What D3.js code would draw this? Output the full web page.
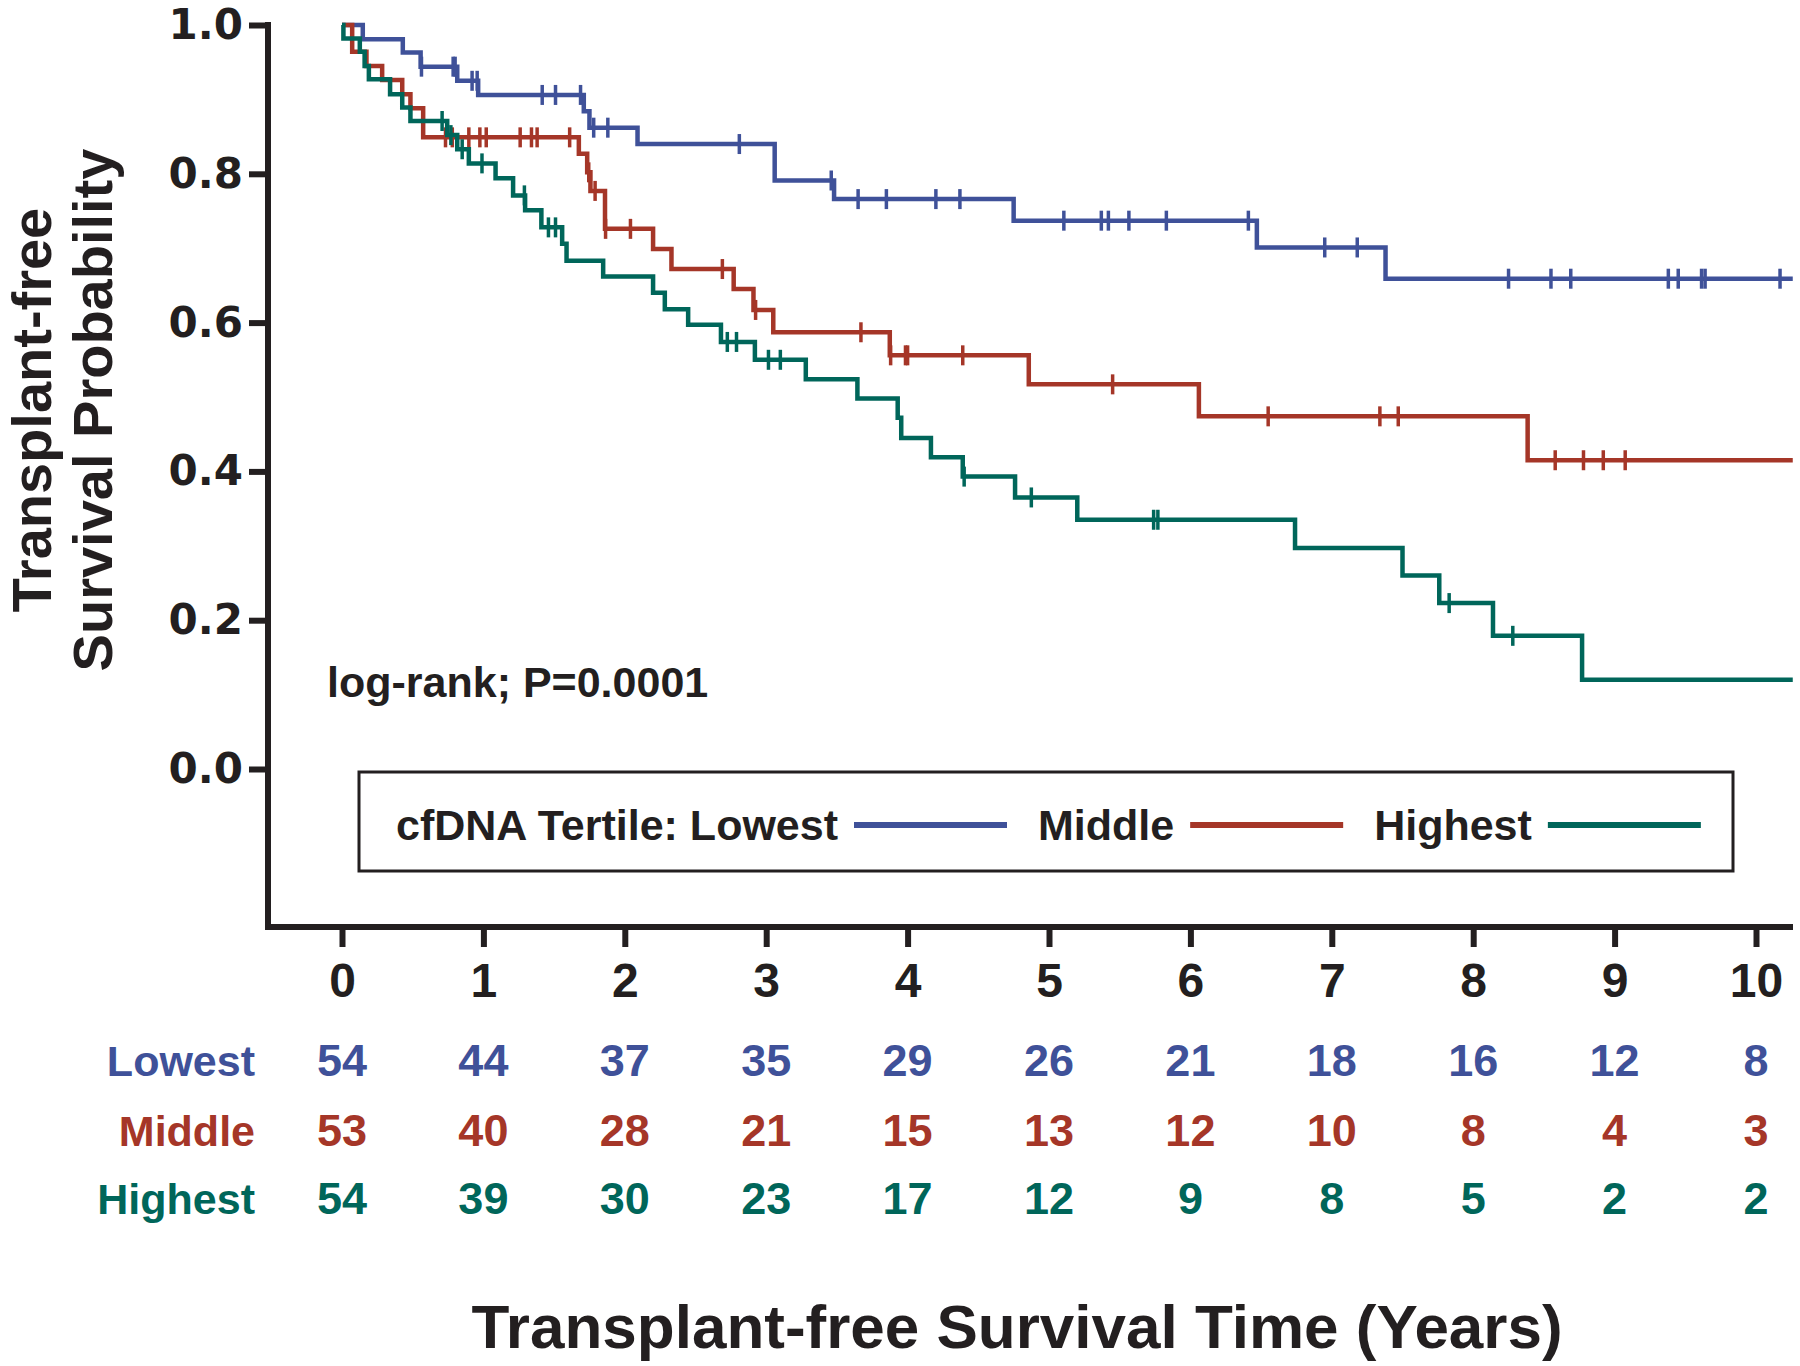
<!DOCTYPE html>
<html>
<head>
<meta charset="utf-8">
<script src="https://cdn.jsdelivr.net/npm/d3@7"></script>
<style>
	body { margin: 0; background: #ffffff; }
	text { font-family: "Liberation Sans", Arial, sans-serif; font-weight: bold; fill: #231f20; }
</style>
</head>
<body>
<svg id="chart" width="1800" height="1366"></svg>
<script>
// tick labels
var years = [0, 1, 2, 3, 4, 5, 6, 7, 8, 9, 10];
var probTicks = [0, 0.2, 0.4, 0.6, 0.8, 1.0];
var groups = ["Lowest", "Middle", "Highest"];
var colors = ["#3f5199", "#a53628", "#00665a"];
var tEnd = 10.26;

// Kaplan-Meier steps: drop time -> survival after the drop
var lowestTimes = [0.147, 0.43, 0.556, 0.815, 0.963, 1.71, 1.75, 2.09, 3.06, 3.48, 4.75, 6.47, 7.38];
var lowestSurv = [0.981, 0.963, 0.944, 0.925, 0.906, 0.884, 0.862, 0.840, 0.791, 0.766, 0.737, 0.701, 0.659];
var lowestCensor = [0.562, 0.786, 0.80, 0.92, 0.956, 1.416, 1.51, 1.687, 1.78, 1.88, 2.81, 3.46, 3.65, 3.85,
	4.20, 4.37, 5.105, 5.37, 5.42, 5.565, 5.83, 6.41, 6.95, 7.18, 8.25, 8.55, 8.69, 9.38, 9.45, 9.615, 9.64, 10.17];

var middleTimes = [0.072, 0.173, 0.284, 0.426, 0.484, 0.574, 1.675, 1.734, 1.757, 1.86, 2.20, 2.33, 2.77, 2.91,
	3.05, 3.874, 4.857, 6.06, 8.385];
var middleSurv = [0.964, 0.945, 0.926, 0.907, 0.888, 0.849, 0.827, 0.802, 0.777, 0.726, 0.699, 0.672, 0.645, 0.617,
	0.587, 0.556, 0.517, 0.474, 0.415];
var middleCensor = [0.732, 0.78, 0.897, 0.975, 1.02, 1.26, 1.34, 1.38, 1.61, 1.745, 1.79, 1.864, 2.04, 2.69, 2.925,
	3.67, 3.88, 3.985, 4.0, 4.39, 5.45, 6.55, 7.34, 7.47, 8.58, 8.78, 8.92, 9.075];

var highestTimes = [0.01, 0.126, 0.16, 0.19, 0.34, 0.426, 0.484, 0.744, 0.815, 0.897, 1.086, 1.21, 1.295, 1.41,
	1.557, 1.588, 1.847, 2.20, 2.283, 2.448, 2.68, 2.92, 3.28, 3.645, 3.93, 3.955, 4.165, 4.39, 4.76, 5.2, 6.74,
	7.50, 7.76, 8.14, 8.77];
var highestSurv = [0.982, 0.964, 0.945, 0.927, 0.907, 0.889, 0.871, 0.852, 0.833, 0.814, 0.794, 0.771, 0.751, 0.728,
	0.706, 0.683, 0.662, 0.640, 0.618, 0.597, 0.574, 0.550, 0.524, 0.498, 0.472, 0.445, 0.419, 0.393, 0.365, 0.335,
	0.297, 0.260, 0.223, 0.179, 0.120];
var highestCensor = [0.708, 0.77, 0.85, 0.99, 1.29, 1.46, 1.51, 2.725, 2.79, 3.016, 3.10, 4.40, 4.875, 5.74, 5.77,
	7.83, 8.28];

// numbers at risk
var lowestAtRisk = [54, 44, 37, 35, 29, 26, 21, 18, 16, 12, 8];
var middleAtRisk = [53, 40, 28, 21, 15, 13, 12, 10, 8, 4, 3];
var highestAtRisk = [54, 39, 30, 23, 17, 12, 9, 8, 5, 2, 2];

var series = [
	{ name: "Lowest", times: lowestTimes, surv: lowestSurv, censor: lowestCensor, risk: lowestAtRisk },
	{ name: "Middle", times: middleTimes, surv: middleSurv, censor: middleCensor, risk: middleAtRisk },
	{ name: "Highest", times: highestTimes, surv: highestSurv, censor: highestCensor, risk: highestAtRisk }
];

var x = d3.scaleLinear().domain([0, 10]).range([342, 1756]);
var y = d3.scaleLinear().domain([0, 1]).range([769, 25]);
var axisX = 268, axisY = 927;

function survAt(s, t) {
	var v = 1;
	for (var i = 0; i < s.times.length; ++i) {
		if (s.times[i] <= t) v = s.surv[i];
	}
	return v;
}

function stepPoints(s) {
	var pts = [[0, 1]];
	s.times.forEach(function(t, i) { pts.push([t, s.surv[i]]); });
	pts.push([tEnd, s.surv[s.surv.length - 1]]);
	return pts;
}

function drawAxes(svg) {
	var gy = svg.append("g")
		.attr("transform", "translate(" + axisX + ",0)")
		.call(d3.axisLeft(y).tickValues(probTicks).tickFormat(d3.format(".1f")).tickSize(19).tickPadding(6));
	gy.select(".domain").remove();
	gy.selectAll(".tick line").attr("stroke", "#231f20").attr("stroke-width", 6);
	gy.selectAll(".tick text")
		.style("font-family", "'DejaVu Sans', sans-serif")
		.style("font-size", "42px")
		.style("font-weight", "bold");

	var gx = svg.append("g")
		.attr("transform", "translate(0," + axisY + ")")
		.call(d3.axisBottom(x).tickValues(years).tickFormat(d3.format("d")).tickSize(20).tickPadding(16));
	gx.select(".domain").remove();
	gx.selectAll(".tick line").attr("stroke", "#231f20").attr("stroke-width", 6);
	gx.selectAll(".tick text").style("font-size", "48px");

	// axis lines meet in the corner, x line runs past 10
	svg.append("path")
		.attr("d", "M" + axisX + ",22V" + axisY + "H1793")
		.attr("fill", "none")
		.attr("stroke", "#231f20")
		.attr("stroke-width", 6)
		.attr("stroke-linejoin", "miter");
}

function drawCurves(svg) {
	var line = d3.line()
		.x(function(d) { return x(d[0]); })
		.y(function(d) { return y(d[1]); })
		.curve(d3.curveStepAfter);

	series.forEach(function(s, i) {
		var g = svg.append("g");
		g.append("path")
			.attr("d", line(stepPoints(s)))
			.attr("fill", "none")
			.attr("stroke", colors[i])
			.attr("stroke-width", 4.5);
		g.selectAll("line")
			.data(s.censor)
			.enter()
			.append("line")
			.attr("x1", function(d) { return x(d); })
			.attr("x2", function(d) { return x(d); })
			.attr("y1", function(d) { return y(survAt(s, d)) - 10; })
			.attr("y2", function(d) { return y(survAt(s, d)) + 10; })
			.attr("stroke", colors[i])
			.attr("stroke-width", 3.5);
	});
}

function drawLegend(svg) {
	svg.append("rect")
		.attr("x", 359).attr("y", 772)
		.attr("width", 1374).attr("height", 99)
		.attr("fill", "none")
		.attr("stroke", "#231f20")
		.attr("stroke-width", 3);

	var labels = ["cfDNA Tertile: Lowest", "Middle", "Highest"];
	var cx = 396;
	labels.forEach(function(lab, i) {
		var t = svg.append("text")
			.attr("x", cx).attr("y", 840)
			.style("font-size", "43px")
			.text(lab);
		cx += t.node().getComputedTextLength() + 16;
		svg.append("line")
			.attr("x1", cx).attr("x2", cx + 153)
			.attr("y1", 825).attr("y2", 825)
			.attr("stroke", colors[i])
			.attr("stroke-width", 6);
		cx += 153 + 31;
	});
}

function drawRiskTable(svg) {
	var rowY = [1076, 1146, 1214];
	series.forEach(function(s, i) {
		svg.append("text")
			.attr("x", 255).attr("y", rowY[i])
			.attr("text-anchor", "end")
			.style("font-size", "43px")
			.style("fill", colors[i])
			.text(s.name);
		svg.append("g").selectAll("text")
			.data(s.risk)
			.enter()
			.append("text")
			.attr("x", function(d, j) { return x(years[j]); })
			.attr("y", rowY[i])
			.attr("text-anchor", "middle")
			.style("font-size", "45px")
			.style("fill", colors[i])
			.text(function(d) { return d; });
	});
}

function drawTitles(svg) {
	svg.append("text")
		.attr("x", 1017).attr("y", 1348)
		.attr("text-anchor", "middle")
		.style("font-size", "62px")
		.text("Transplant-free Survival Time (Years)");

	svg.append("text")
		.attr("transform", "translate(51,410) rotate(-90)")
		.attr("text-anchor", "middle")
		.style("font-size", "56px")
		.text("Transplant-free");
	svg.append("text")
		.attr("transform", "translate(112,410) rotate(-90)")
		.attr("text-anchor", "middle")
		.style("font-size", "56px")
		.text("Survival Probability");

	svg.append("text")
		.attr("x", 327).attr("y", 697)
		.style("font-size", "43px")
		.text("log-rank; P=0.0001");
}

function init() {
	var svg = d3.select("#chart");
	drawAxes(svg);
	drawCurves(svg);
	drawLegend(svg);
	drawRiskTable(svg);
	drawTitles(svg);
}

init();
</script>
</body>
</html>
